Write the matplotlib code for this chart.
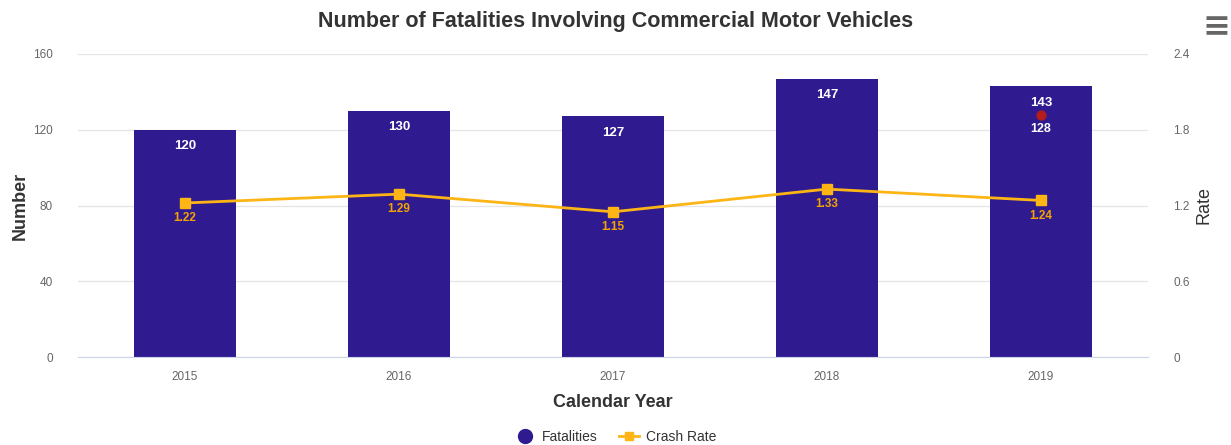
import matplotlib.pyplot as plt
from matplotlib.lines import Line2D

plt.rcParams['font.family'] = ['Liberation Sans', 'DejaVu Sans']

years = ['2015', '2016', '2017', '2018', '2019']
fatalities = [120, 130, 127, 147, 143]
crash_rate = [1.22, 1.29, 1.15, 1.33, 1.24]
extra_year = 4
extra_value = 128

bar_color = '#2f1b8f'
line_color = '#fdb515'
label_orange = '#f5a300'
grid_color = '#e6e6e6'
tick_color = '#666666'

fig = plt.figure(figsize=(12.31, 4.45), dpi=100)
ax = fig.add_axes([78 / 1231, 1 - 357 / 445, 1070 / 1231, 303 / 445])
ax2 = ax.twinx()

x = list(range(len(years)))
ax.bar(x, fatalities, width=0.48, color=bar_color, zorder=2)
for xi, v in zip(x, fatalities):
    ax.annotate(str(v), (xi, v), xytext=(0, -12), textcoords='offset points',
                ha='center', va='center', color='white', fontsize=9.5, fontweight='bold', zorder=5)
ax.scatter([extra_year], [extra_value], s=40, color='#b71c1c', zorder=4)
ax.annotate(str(extra_value), (extra_year, extra_value), xytext=(0, -10.5), textcoords='offset points',
            ha='center', va='center', color='white', fontsize=9, fontweight='bold', zorder=5)

ax2.plot(x, crash_rate, color=line_color, lw=2, marker='s', ms=7, zorder=3)
for xi, v in zip(x, crash_rate):
    ax2.annotate(f'{v:.2f}', (xi, v), xytext=(0, -11), textcoords='offset points',
                 ha='center', va='center', color=label_orange, fontsize=8.5, fontweight='bold')

ax.set_xlim(-0.5, 4.5)
ax.set_ylim(0, 160)
ax2.set_ylim(0, 2.4)
ax.set_yticks([0, 40, 80, 120, 160])
ax2.set_yticks([0, 0.6, 1.2, 1.8, 2.4])
ax2.set_yticklabels(['0', '0.6', '1.2', '1.8', '2.4'])
ax.set_xticks(x)
ax.set_xticklabels(years)
ax.grid(axis='y', color=grid_color, lw=1, zorder=0)
ax.set_axisbelow(True)

for a in (ax, ax2):
    for s in a.spines.values():
        s.set_visible(False)
ax.spines['bottom'].set_visible(True)
ax.spines['bottom'].set_color('#ccd6eb')
ax.tick_params(axis='y', length=0, labelsize=8.5, colors=tick_color, pad=18)
ax2.tick_params(axis='y', length=0, labelsize=8.5, colors=tick_color, pad=18)
ax.tick_params(axis='x', length=0, labelsize=8.5, colors=tick_color, pad=10)

ax.set_ylabel('Number', fontsize=13, fontweight='bold', color='#333333', labelpad=3)
ax2.set_ylabel('Rate', fontsize=13, color='#333333', labelpad=4)
ax.set_xlabel('Calendar Year', fontsize=13, fontweight='bold', color='#333333', labelpad=8)

fig.text(0.5, 1 - 21 / 445, 'Number of Fatalities Involving Commercial Motor Vehicles',
         ha='center', va='center', fontsize=15.5, fontweight='bold', color='#333333')
fig.text(1 - 15 / 1231, 1 - 27 / 445, '≡', ha='center', va='center', fontsize=24,
         color='#666666', family=['DejaVu Sans'], fontweight='bold')

handles = [Line2D([], [], color=bar_color, marker='o', ls='none', ms=10),
           Line2D([], [], color=line_color, marker='s', lw=2, ms=6)]
fig.legend(handles, ['Fatalities', 'Crash Rate'], loc='center', bbox_to_anchor=(0.5, 1 - 437 / 445),
           ncol=2, frameon=False, fontsize=10, handlelength=1.5, columnspacing=1.5,
           handletextpad=0.5, labelcolor='#333333')

fig.savefig('out.png', dpi=100)
